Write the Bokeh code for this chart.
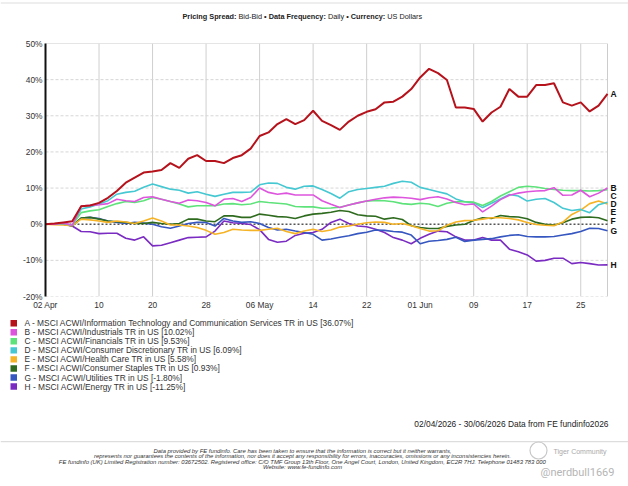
import pandas as pd
from bokeh.plotting import figure
from bokeh.layouts import column
from bokeh.models import FixedTicker, Range1d
from bokeh.embed import file_html
from bokeh.resources import INLINE
from bokeh.core.properties import value

# ---------------- data ----------------
dates = pd.bdate_range("2026-04-02", "2026-06-30")
tick_dates = ["2026-04-02", "2026-04-10", "2026-04-20", "2026-04-28", "2026-05-06",
              "2026-05-14", "2026-05-22", "2026-06-01", "2026-06-09", "2026-06-17", "2026-06-25"]
tick_labels = ["02 Apr", "10", "20", "28", "06 May", "14", "22", "01 Jun", "09", "17", "25"]
y_ticks = [-20, -10, 0, 10, 20, 30, 40, 50]

letters = ["A", "B", "C", "D", "E", "F", "G", "H"]
names = [
    "MSCI ACWI/Information Technology and Communication Services TR in US [36.07%]",
    "MSCI ACWI/Industrials TR in US [10.02%]",
    "MSCI ACWI/Financials TR in US [9.53%]",
    "MSCI ACWI/Consumer Discretionary TR in US [6.09%]",
    "MSCI ACWI/Health Care TR in US [5.58%]",
    "MSCI ACWI/Consumer Staples TR in US [0.93%]",
    "MSCI ACWI/Utilities TR in US [-1.80%]",
    "MSCI ACWI/Energy TR in US [-11.25%]",
]
colors = ["#b5121b", "#dd55dd", "#5ee27a", "#45c8d2", "#f5b325", "#2f6b1f", "#3656c0", "#7a2bc2"]

A = [0, 0.2, 0.5, 0.8, 5.0, 5.2, 5.9, 7.3, 9.2, 11.5,
     12.9, 14.3, 14.6, 15.0, 16.9, 15.6, 18.1, 19.1, 17.5, 17.5,
     16.9, 18.3, 19.1, 20.9, 24.4, 25.4, 27.7, 29.1, 27.7, 28.8,
     31.4, 28.6, 27.4, 26.1, 28.4, 30.0, 31.1, 31.8, 33.7, 33.9,
     35.3, 37.4, 40.6, 43.0, 41.8, 39.9, 32.3, 32.3, 31.9, 28.4,
     30.9, 32.5, 37.4, 35.3, 35.3, 38.5, 38.5, 39.0, 33.7, 32.8,
     33.7, 31.2, 32.8, 36.07]
B = [0, 0, 0.3, -0.3, 5.0, 5.2, 5.4, 5.7, 6.9, 6.5,
     6.3, 7.4, 7.6, 6.9, 6.3, 5.8, 6.7, 6.5, 6.0, 5.1,
     6.9, 7.1, 6.3, 7.4, 10.0, 8.8, 8.3, 8.6, 8.1, 8.1,
     8.1, 6.5, 5.5, 4.6, 5.3, 5.9, 6.4, 6.9, 7.3, 7.5,
     7.4, 7.2, 6.8, 7.3, 7.6, 7.0, 6.0, 5.4, 5.6, 3.4,
     5.0, 6.8, 8.0, 8.6, 9.0, 9.2, 9.3, 10.1, 8.0, 8.1,
     9.4, 7.6, 8.6, 10.02]
C = [0, 0, 0.2, -0.3, 3.2, 3.7, 4.0, 4.9, 5.7, 6.3,
     6.0, 6.5, 7.4, 6.9, 6.3, 5.6, 4.8, 5.1, 5.1, 5.1,
     5.6, 5.7, 5.4, 5.6, 6.3, 6.0, 5.8, 5.6, 4.9, 4.8,
     4.8, 4.4, 4.5, 4.7, 5.3, 5.9, 6.4, 6.6, 6.5, 6.2,
     5.7, 5.5, 5.8, 5.6, 4.9, 5.8, 6.2, 6.2, 6.1, 5.2,
     6.3, 7.8, 9.0, 10.2, 10.5, 10.3, 9.9, 9.6, 9.4, 9.3,
     9.3, 9.2, 9.3, 9.53]
D = [0, 0, 0.2, -0.3, 4.2, 4.8, 5.6, 6.5, 8.3, 8.8,
     9.1, 10.2, 11.1, 10.4, 9.7, 9.4, 8.6, 9.0, 8.3, 7.7,
     8.3, 8.8, 8.8, 8.9, 10.9, 11.4, 11.3, 10.2, 9.7, 10.5,
     10.6, 9.6, 8.5, 7.2, 9.0, 9.6, 9.9, 10.2, 10.5, 11.3,
     11.9, 11.6, 10.2, 9.6, 9.0, 8.4, 7.0, 6.2, 5.9, 4.6,
     5.8, 7.0, 8.2, 7.8, 6.4, 6.9, 7.1, 6.0, 4.4, 3.8,
     4.1, 3.2, 5.4, 6.09]
E = [0, -0.1, -0.2, -0.4, 1.4, 1.2, 0.9, 0.5, 0.9, 0.6,
     0.2, 0.9, 1.7, 0.9, -0.2, -0.2, -0.5, -0.9, -1.7, -2.8,
     -2.3, -1.4, -1.6, -1.7, -1.7, -1.4, -1.1, -2.0, -2.6, -1.9,
     -1.4, -2.0, -1.6, -0.8, -0.5, 0.0, 0.4, 0.6, 0.5, 0.0,
     0.2, -0.4, -1.2, -1.9, -1.8, -0.3, 0.6, 1.0, 1.1, 1.4,
     1.8, 1.8, 1.6, 1.2, 0.5, -0.1, -0.3, -0.4, 0.6, 2.7,
     3.9, 5.7, 6.4, 5.58]
F = [0, 0, 0, -0.5, 1.7, 1.9, 1.4, 0.9, 0.7, 0.5,
     0.2, 0.2, 0.5, 0.2, 0.0, 0.2, 1.4, 1.4, 0.9, 0.7,
     2.3, 2.3, 1.9, 1.9, 2.8, 2.5, 2.1, 2.0, 1.6, 2.3,
     2.8, 3.0, 3.3, 3.8, 3.5, 2.6, 2.3, 2.2, 1.4, 1.8,
     1.3, -0.4, -0.9, -1.2, -1.2, -0.6, -0.2, 0.0, 1.0, 1.8,
     1.6, 2.4, 2.1, 2.0, 1.5, 0.5, 0.0, -0.2, 0.4, 1.4,
     1.9, 2.0, 1.8, 0.93]
G = [0, 0, 0.1, -0.3, 1.7, 1.9, 1.6, 0.9, 0.5, 0.2,
     0.5, 0.3, 0.0, -0.7, -1.1, -0.5, 0.2, 0.5, 0.5, -0.5,
     1.6, 0.9, 0.5, 0.7, 0.2, -0.9, -1.6, -1.4, -1.9, -2.3,
     -2.8, -4.4, -4.1, -3.6, -3.2, -2.6, -2.2, -1.6, -1.7, -2.0,
     -2.2, -3.0, -5.4, -4.7, -4.5, -4.2, -3.6, -4.8, -4.4, -4.2,
     -4.0, -3.5, -3.1, -2.9, -3.4, -3.5, -3.5, -3.4, -3.0, -2.6,
     -2.0, -1.1, -1.2, -1.80]
H = [0, 0, 0, -0.5, -2.0, -2.1, -2.6, -2.5, -2.5, -3.9,
     -4.4, -3.5, -6.0, -5.8, -5.1, -4.4, -3.7, -3.6, -3.5, -1.9,
     0.9, 0.4, 0.2, -0.1, -1.5, -4.2, -5.0, -4.7, -3.1, -2.5,
     -2.3, -1.4, 0.5, 1.4, 0.2, -0.5, -0.7, -1.4, -2.3, -3.7,
     -4.4, -5.4, -3.9, -2.8, -1.9, -2.1, -3.5, -4.4, -4.4, -3.7,
     -4.4, -4.4, -6.9, -7.6, -8.5, -10.2, -10.0, -9.4, -9.4, -10.9,
     -10.6, -10.9, -11.3, -11.25]
series = [A, B, C, D, E, F, G, H]

title_parts = ["Pricing Spread:", "Bid-Bid", "\u2022 Data Frequency:", "Daily", "\u2022 Currency:", "US Dollars"]
title_styles = ["bold", "normal", "bold", "normal", "bold", "normal"]
range_text = "02/04/2026 - 30/06/2026 Data from FE fundinfo2026"
disclaimer = [
    "Data provided by FE fundinfo. Care has been taken to ensure that the information is correct but it neither warrants,",
    "represents nor guarantees the contents of the information, nor does it accept any responsibility for errors, inaccuracies, omissions or any inconsistencies herein.",
    "FE fundinfo (UK) Limited Registration number: 03672502. Registered office: C/O TMF Group 13th Floor, One Angel Court, London, United Kingdom, EC2R 7HJ. Telephone 01483 783 000",
    "Website: www.fe-fundinfo.com",
]

# ---------------- layout constants (page pixels) ----------------
FONT = "Liberation Sans"
W = 628
TOP_H = 30            # header strip: page y 0..30
MAIN_BOTTOM = 316     # chart strip: page y 30..316
FRAME_L, FRAME_R, FRAME_T, FRAME_B = 45, 607, 43, 296


def no_align(f):
    if "frame_align" in f.properties():
        f.frame_align = False
    return f


def blank(height, y0):
    f = figure(width=W, height=height, output_backend="svg", toolbar_location=None,
               x_range=Range1d(0, W), y_range=Range1d(y0 + height, y0),
               x_axis_location=None, y_axis_location=None,
               min_border=0, min_border_left=0, min_border_right=0,
               min_border_top=0, min_border_bottom=0)
    f.grid.visible = False
    f.outline_line_color = None
    f.border_fill_color = "white"
    f.background_fill_color = "white"
    return no_align(f)


# ---------------- header ----------------
top = blank(TOP_H, 0)
top.segment(x0=[0], y0=[2.5], x1=[W], y1=[2.5], line_color="#dddddd", line_width=1.2)
title_x = [182, 238.0, 263.6, 327.4, 345.7, 386.8]
for txt, style, x0 in zip(title_parts, title_styles, title_x):
    top.text(x=[x0], y=[16], text=[txt], text_font=value(FONT), text_font_size="7.3px",
             text_font_style=style, text_color="#222222", text_baseline="middle", text_align="left")

# ---------------- chart ----------------
idx = list(range(len(dates)))
date_pos = {d.strftime("%Y-%m-%d"): i for i, d in enumerate(dates)}
tick_pos = [date_pos[d] for d in tick_dates]
x_last = idx[-1]
ppu = (FRAME_R - FRAME_L) / x_last            # pixels per trading day
x_end = x_last + (W - FRAME_R) / ppu          # frame extends to page edge for the end letters

main_h = MAIN_BOTTOM - TOP_H
p = figure(width=W, height=main_h, output_backend="svg", toolbar_location=None,
           x_range=Range1d(0, x_end), y_range=Range1d(-20, 50),
           min_border_left=FRAME_L, min_border_right=0,
           min_border_top=FRAME_T - TOP_H, min_border_bottom=MAIN_BOTTOM - FRAME_B)
no_align(p)
p.outline_line_color = None
p.grid.visible = False
p.border_fill_color = "white"

p.xaxis.ticker = FixedTicker(ticks=tick_pos)
p.xaxis.major_label_overrides = {t: l for t, l in zip(tick_pos, tick_labels)}
p.yaxis.ticker = FixedTicker(ticks=y_ticks)
p.yaxis.major_label_overrides = {t: f"{t}%" for t in y_ticks}
for ax in (p.xaxis[0], p.yaxis[0]):
    ax.major_tick_line_color = None
    ax.minor_tick_line_color = None
    ax.major_tick_out = 0
    ax.major_tick_in = 0
    ax.minor_tick_out = 0
    ax.minor_tick_in = 0
    ax.major_label_text_font = FONT
    ax.major_label_text_font_size = "8.4px"
    ax.major_label_text_color = "#333333"
    ax.major_label_standoff = 3
p.xaxis.axis_line_color = None
p.yaxis.axis_line_color = "#111111"
p.yaxis.axis_line_width = 2

# grid (drawn only over the data area)
p.segment(x0=tick_pos, y0=[-20] * len(tick_pos), x1=tick_pos, y1=[50] * len(tick_pos),
          line_color="#cfcfcf", line_width=1)
hy = [t for t in y_ticks if t not in (0, 50)]
p.segment(x0=[0] * len(hy), y0=hy, x1=[x_last] * len(hy), y1=hy,
          line_color="#d6d6d6", line_width=1, line_dash="3 2")
p.segment(x0=[0, x_last], y0=[50, -20], x1=[x_last, x_last], y1=[50, 50],
          line_color="#cccccc", line_width=1)
p.segment(x0=[0], y0=[0], x1=[x_last], y1=[0], line_color="#555555", line_width=1.5,
          line_dash="2 2")

for vals, col in reversed(list(zip(series, colors))):
    p.line(idx, vals, line_color=col, line_width=2 if col == colors[0] else 1.6)

# end-of-line letters with simple collision avoidance
gap = 2.17
prev = None
lab_y = []
for vals in series:
    yv = vals[-1] if prev is None else min(vals[-1], prev - gap)
    prev = yv
    lab_y.append(yv)
p.text(x=[x_last + 3 / ppu] * len(letters), y=lab_y, text=letters, text_font=value(FONT),
       text_font_size="8.5px", text_font_style="bold", text_color="#111111",
       text_baseline="middle", text_align="left")

# ---------------- footer ----------------
bot_h = 486 - MAIN_BOTTOM
bt = blank(bot_h, MAIN_BOTTOM)
row_y = [322.7 + 9.05 * k for k in range(len(letters))]
bt.quad(left=[10] * len(row_y), right=[16.5] * len(row_y),
        top=[y - 3.2 for y in row_y], bottom=[y + 3.2 for y in row_y],
        fill_color=colors, line_color=None)
bt.text(x=[24] * len(row_y), y=row_y, text=[f"{l} - {n}" for l, n in zip(letters, names)],
        text_font=value(FONT), text_font_size="8.4px", text_color="#333333",
        text_baseline="middle", text_align="left")
bt.text(x=[608], y=[423.5], text=[range_text], text_font=value(FONT), text_font_size="8.4px",
        text_color="#222222", text_baseline="middle", text_align="right")
bt.segment(x0=[0], y0=[441.2], x1=[W], y1=[441.2], line_color="#dddddd", line_width=1.3)
bt.text(x=[302] * len(disclaimer), y=[450.8 + 5.1 * k for k in range(len(disclaimer))],
        text=disclaimer, text_font=value(FONT), text_font_size="5.9px", text_font_style="italic",
        text_color="#333333", text_baseline="middle", text_align="center")
bt.scatter(x=[538], y=[450], marker="circle", size=17, fill_color=None,
           line_color="#c8c8c8", line_width=1.2)
bt.text(x=[553], y=[451], text=["Tiger Community"], text_font=value(FONT), text_font_size="7px",
        text_color="#aaaaaa", text_baseline="middle", text_align="left")
bt.text(x=[540], y=[472], text=["@nerdbull1669"], text_font=value("Roboto"),
        text_font_size="11px", text_color="#b5b5b5", text_baseline="middle", text_align="left")

page = column(top, p, bt, spacing=0)
open("out.html", "w").write(file_html(page, INLINE))
